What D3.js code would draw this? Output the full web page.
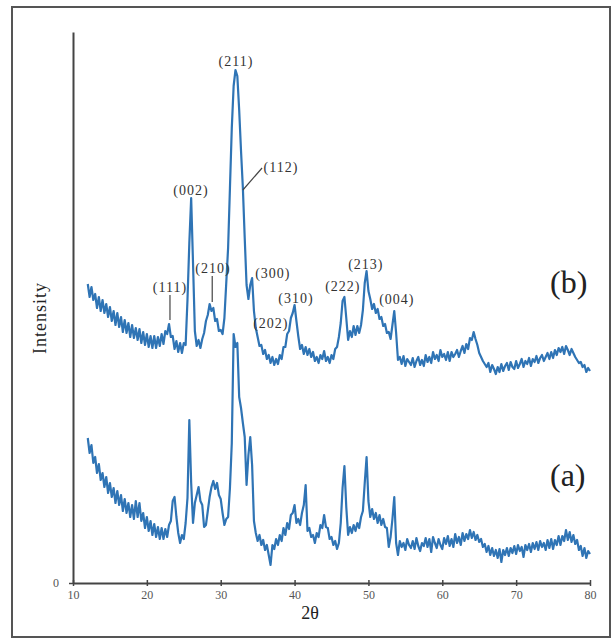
<!DOCTYPE html>
<html>
<head>
<meta charset="utf-8">
<style>
    body { margin: 0; background: #fff; }
    svg { display: block; }
    .axis text { font-family: 'Liberation Serif', 'DejaVu Serif', serif; fill: #555; font-size: 12px; }
    .axis .domain { stroke: #444; stroke-width: 2; }
    .axis .tick line { stroke: #444; stroke-width: 1.5; }
    .hkl { font-family: 'Liberation Serif', serif; font-size: 14px; letter-spacing: 1px; fill: #333; text-anchor: middle; }
    .title { font-family: 'Liberation Serif', serif; fill: #222; }
</style>
</head>
<body>
<svg width="613" height="640"></svg>
<script src="https://d3js.org/d3.v7.min.js"></script>
<script>
// 2-theta sampling: 12 to 80 deg, every 0.25 deg
const thetaStart = 12, thetaStep = 0.25;
const xTicks = [10, 20, 30, 40, 50, 60, 70, 80];

// (b) upper pattern, intensity in a.u.
const intensityB = [
  299, 286, 296, 283,   // 12
  289, 275, 286, 272,
  283, 270, 279, 266,
  276, 262, 272, 258,   // 15
  270, 256, 266, 251,
  263, 250, 260, 246,
  258, 245, 255, 243,
  254, 240, 251, 238,
  249, 236, 247, 235,   // 20
  247, 235, 246, 237,
  249, 239, 252, 249,
  259, 246, 247, 234,
  242, 231, 240, 230,
  240, 238, 283, 340,   // 25
  385, 320, 252, 237,
  243, 235, 244, 250,
  262, 268, 279, 272,
  275, 262, 264, 252,
  253, 249, 265, 300,   // 30
  335, 395, 455, 497,
  513, 507, 473, 432,
  395, 345, 298, 284,
  298, 305, 272, 255,
  246, 237, 238, 229,   // 35
  233, 224, 228, 220,
  226, 218, 224, 219,
  228, 224, 236, 236,
  249, 252, 265, 270,
  278, 262, 247, 234,   // 40
  238, 229, 236, 228,
  234, 226, 231, 222,
  226, 220, 228, 224,
  232, 222, 226, 220,
  228, 224, 234, 236,   // 45
  246, 260, 282, 286,
  265, 243, 252, 246,
  257, 248, 257, 250,
  258, 273, 300, 312,
  292, 284, 274, 279,   // 50
  270, 274, 264, 266,
  257, 259, 250, 251,
  244, 258, 272, 250,
  223, 226, 219, 227,
  217, 224, 221, 218,   // 55
  225, 216, 222, 226,
  218, 223, 217, 228,
  221, 226, 220, 231,
  224, 228, 222, 233,
  226, 229, 223, 231,   // 60
  222, 231, 226, 229,
  233, 226, 232, 237,
  230, 239, 234, 245,
  243, 251, 244, 238,
  230, 226, 222, 219,   // 65
  216, 220, 211, 218,
  214, 209, 216, 211,
  219, 212, 217, 220,
  213, 221, 216, 214,
  222, 215, 219, 224,   // 70
  216, 222, 219, 225,
  217, 224, 221, 227,
  220, 225, 228, 222,
  226, 230, 224, 231,
  225, 233, 228, 235,   // 75
  231, 236, 229, 237,
  233, 228, 234, 230,
  226, 223, 220, 221,
  216, 218, 211, 215,
  212                   // 80
];

// (a) lower pattern
const intensityA = [
  145, 130, 138, 120,   // 12
  126, 110, 119, 103,
  110, 96, 106, 90,
  100, 86, 95, 80,      // 15
  92, 78, 88, 72,
  84, 70, 80, 66,
  78, 64, 82, 66,
  80, 62, 70, 55,
  66, 52, 62, 48,       // 20
  59, 46, 56, 44,
  55, 44, 54, 46,
  58, 62, 82, 86,
  66, 50, 40, 48,
  44, 60, 85, 163,      // 25
  100, 60, 80, 88,
  96, 82, 78, 56,
  58, 72, 86, 96,
  102, 94, 100, 88,
  84, 70, 58, 64,       // 30
  66, 95, 140, 249,
  236, 240, 186, 175,
  160, 146, 98, 128,
  146, 118, 62, 50,
  42, 48, 38, 43,       // 35
  33, 38, 28, 18,
  38, 34, 44, 38,
  48, 42, 55, 48,
  60, 54, 68, 70,
  78, 60, 64, 58,       // 40
  70, 78, 98, 52,
  55, 46, 48, 40,
  50, 46, 58, 55,
  68, 56, 55, 44,
  46, 38, 42, 34,       // 45
  40, 60, 95, 117,
  76, 48, 56, 50,
  58, 52, 60, 55,
  66, 72, 100, 126,
  82, 66, 74, 64,       // 50
  70, 60, 68, 58,
  64, 56, 55, 36,
  46, 64, 86, 40,
  28, 42, 36, 40,
  33, 44, 38, 35,       // 55
  42, 34, 45, 37,
  32, 40, 37, 45,
  36, 44, 31, 46,
  40, 35, 44, 38,
  34, 45, 39, 47,       // 60
  37, 44, 36, 49,
  40, 46, 38, 50,
  42, 49, 44, 53,
  45, 51, 43, 48,
  41, 44, 36, 39,       // 65
  31, 37, 28, 35,
  27, 33, 25, 34,
  21, 33, 28, 35,
  27, 35, 30, 37,
  29, 38, 32, 36,       // 70
  26, 38, 33, 39,
  31, 40, 34, 41,
  33, 42, 36, 40,
  33, 43, 35, 44,
  34, 43, 38, 47,       // 75
  38, 47, 42, 53,
  43, 51, 41, 48,
  39, 43, 33, 37,
  27, 35, 25, 32,
  29                    // 80
];

// Miller index labels: text, label centre (2theta), label baseline (a.u.)
const hklText  = ["(211)", "(112)", "(002)", "(111)", "(210)", "(300)", "(202)", "(310)", "(222)", "(213)", "(004)"];
const hklTheta = [32.06, 38.15, 25.97, 23.13, 28.94, 37.06, 36.79, 40.18, 46.54, 49.65, 53.84];
const hklLevel = [517, 411, 388, 291, 310, 305, 255, 280, 292, 314, 279];

// leader lines [theta1, level1, theta2, level2]
const leaders = [
  [23.13, 288, 23.13, 263],
  [28.85, 307, 28.85, 281],
  [33.0, 393, 35.6, 415]
];

const svg = d3.select("svg");
const margin = { top: 32, right: 23, bottom: 57, left: 73 };
const width = 613, height = 640;

// outer frame
svg.append("rect")
    .attr("x", 12).attr("y", 7)
    .attr("width", 598).attr("height", 630)
    .attr("fill", "none")
    .attr("stroke", "#555")
    .attr("stroke-width", 2);

const x = d3.scaleLinear()
    .domain([10, 80])
    .range([margin.left, width - margin.right]);

const y = d3.scaleLinear()
    .domain([0, 551])
    .range([height - margin.bottom, margin.top]);

const xAxis = svg.append("g")
    .attr("class", "axis")
    .attr("transform", `translate(0,${height - margin.bottom})`)
    .call(d3.axisBottom(x).tickValues(xTicks).tickSize(3).tickSizeOuter(0).tickPadding(4));
xAxis.selectAll(".tick line").attr("y1", -3);

const yAxis = svg.append("g")
    .attr("class", "axis")
    .attr("transform", `translate(${margin.left},0)`)
    .call(d3.axisLeft(y).tickValues([0]).tickSize(4).tickSizeOuter(0).tickPadding(10));

const line = d3.line()
    .x((d, i) => x(thetaStart + i * thetaStep))
    .y(d => y(d));

[intensityB, intensityA].forEach(series => {
    svg.append("path")
        .datum(series)
        .attr("fill", "none")
        .attr("stroke", "#2f74b5")
        .attr("stroke-width", 2.2)
        .attr("stroke-linejoin", "round")
        .attr("d", line);
});

svg.selectAll(".leader")
    .data(leaders)
    .join("line")
    .attr("class", "leader")
    .attr("x1", d => x(d[0])).attr("y1", d => y(d[1]))
    .attr("x2", d => x(d[2])).attr("y2", d => y(d[3]))
    .attr("stroke", "#444")
    .attr("stroke-width", 1.2);

svg.selectAll(".hkl")
    .data(hklText)
    .join("text")
    .attr("class", "hkl")
    .attr("x", (d, i) => x(hklTheta[i]))
    .attr("y", (d, i) => y(hklLevel[i]))
    .text(d => d);

svg.append("text")
    .attr("class", "title")
    .attr("x", 550).attr("y", 293)
    .attr("font-size", 32)
    .text("(b)");

svg.append("text")
    .attr("class", "title")
    .attr("x", 550).attr("y", 486)
    .attr("font-size", 32)
    .text("(a)");

svg.append("text")
    .attr("class", "title")
    .attr("x", 310).attr("y", 619)
    .attr("font-size", 18)
    .attr("text-anchor", "middle")
    .text("2θ");

svg.append("text")
    .attr("class", "title")
    .attr("transform", "translate(46,318) rotate(-90)")
    .attr("font-size", 18)
    .attr("letter-spacing", 1)
    .attr("text-anchor", "middle")
    .text("Intensity");
</script>
</body>
</html>
